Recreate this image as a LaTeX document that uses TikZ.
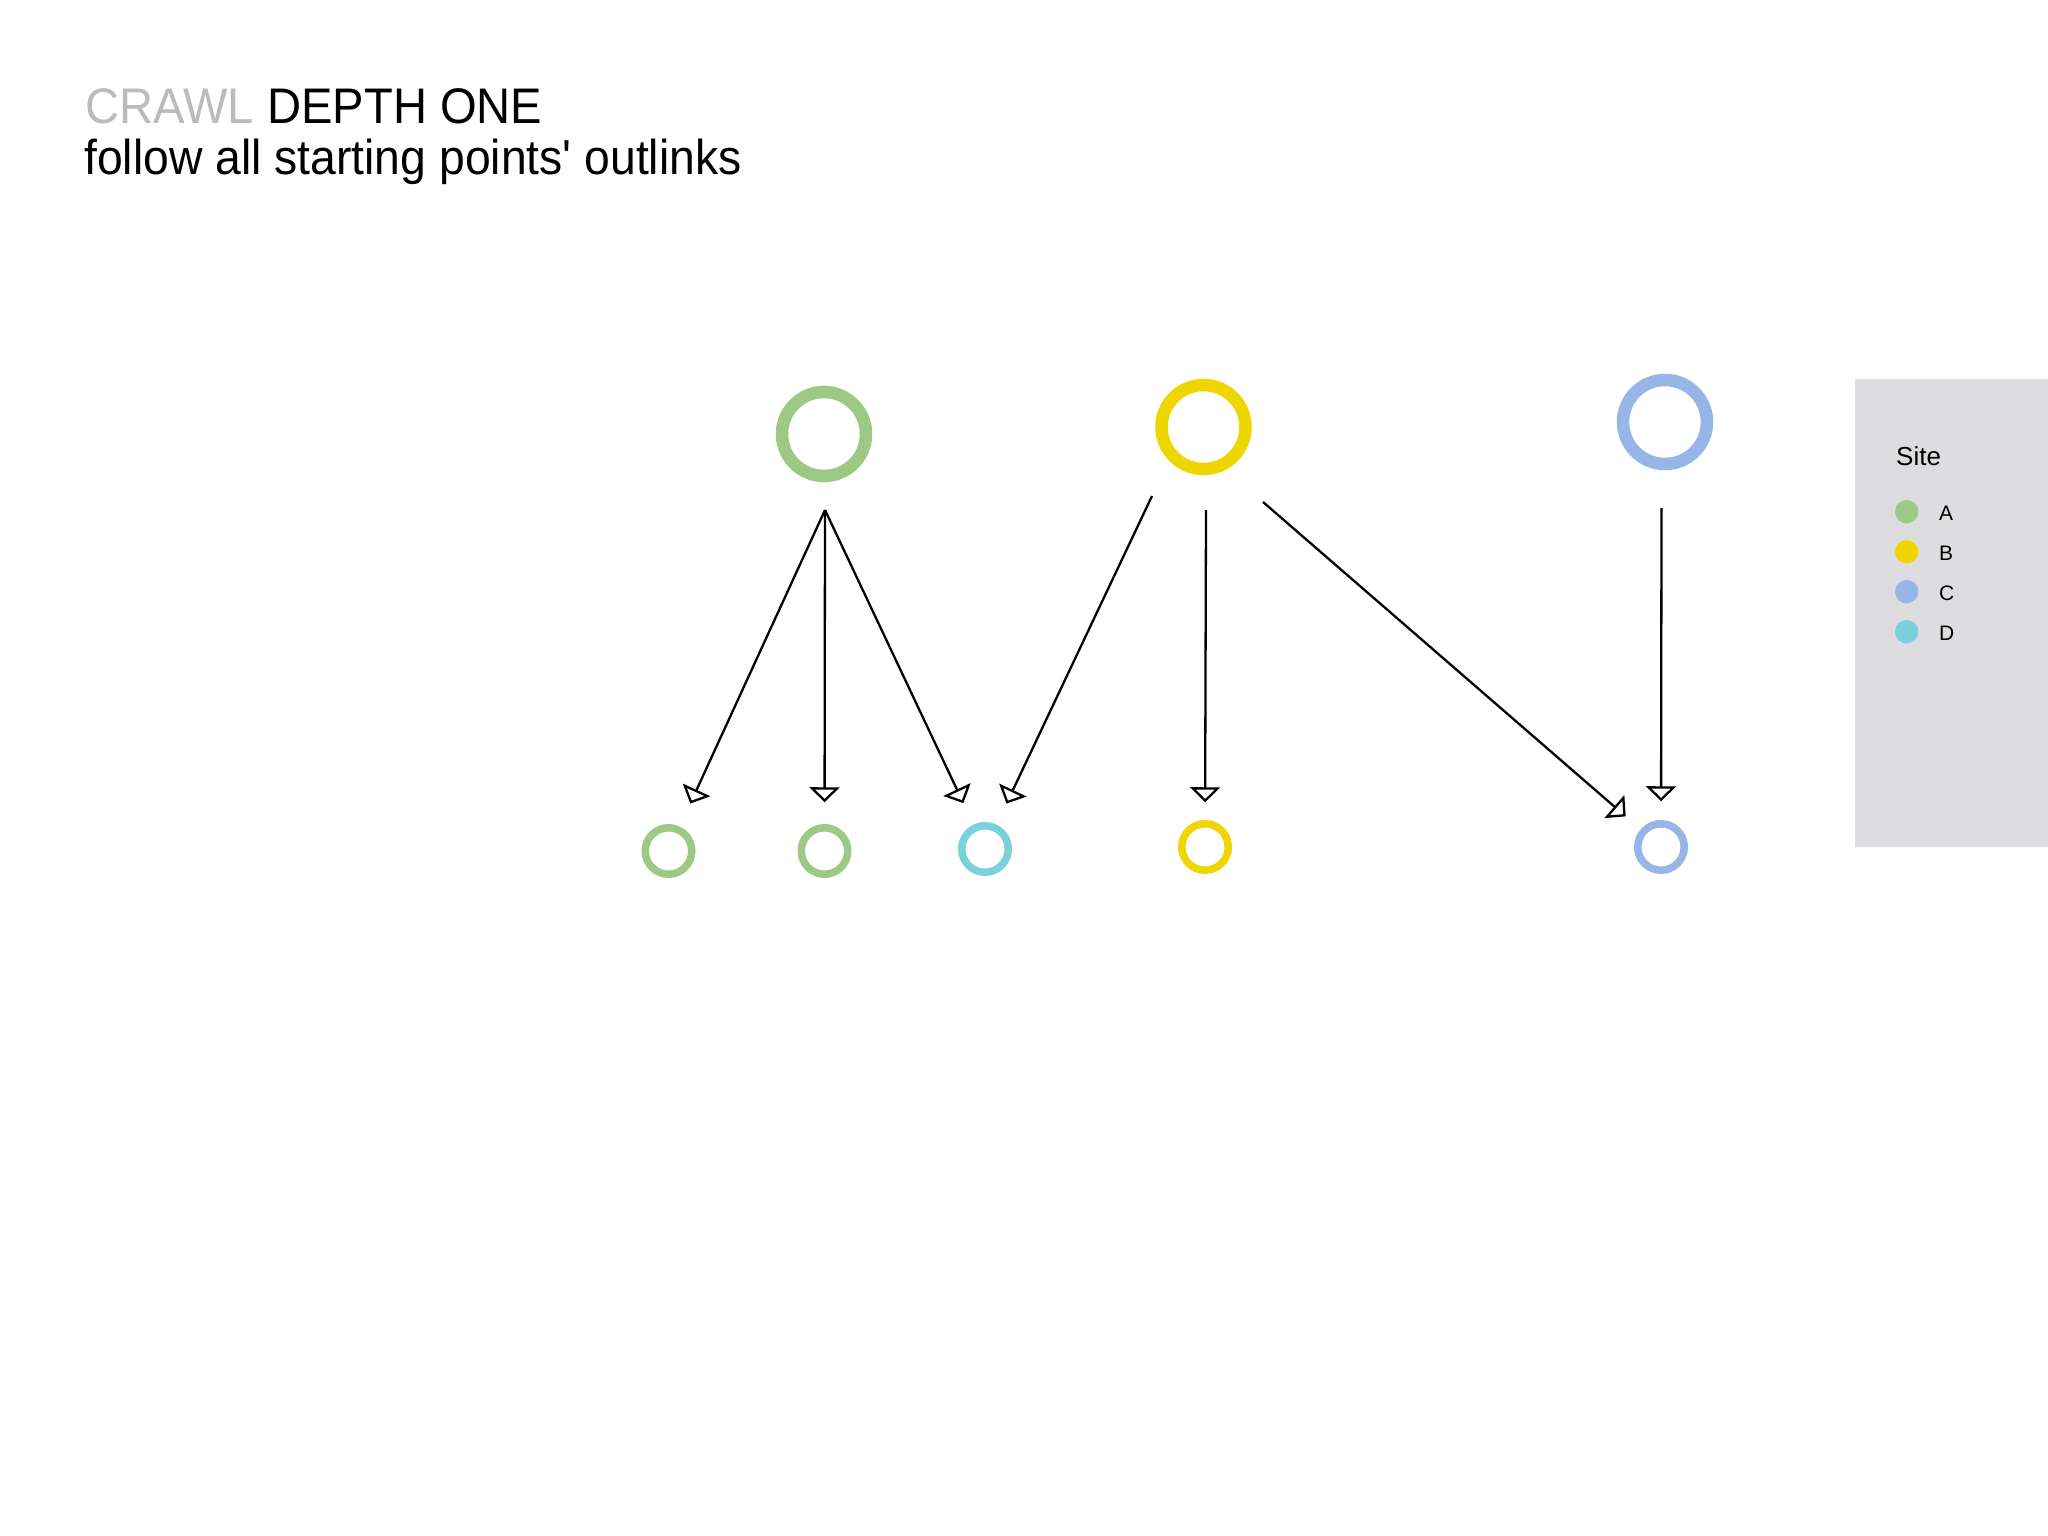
\documentclass[tikz,border=0pt]{standalone}
\usepackage{fontspec}
\setmainfont{Liberation Sans}
\newfontfamily\titlefont[FakeStretch=0.943]{Liberation Sans}
\newfontfamily\subtitlefont[FakeStretch=0.945]{Liberation Sans}
\usetikzlibrary{arrows.meta}
\definecolor{siteA}{RGB}{156,201,131}
\definecolor{siteB}{RGB}{240,214,0}
\definecolor{siteC}{RGB}{151,181,230}
\definecolor{siteD}{RGB}{122,208,219}
\definecolor{legendgray}{RGB}{221,221,223}
\definecolor{titlegray}{RGB}{187,187,187}
\begin{document}
\begin{tikzpicture}[x=1pt,y=-1pt,
  bigring/.style={circle, minimum size=84pt, line width=12.5pt, inner sep=0pt, outer sep=0pt},
  smallring/.style={circle, minimum size=46.5pt, line width=7.5pt, inner sep=0pt, outer sep=0pt},
  link/.style={line width=2.3pt, draw=black, -{Triangle[open, length=15pt, width=30pt]}},
  dot/.style={circle, minimum size=23.4pt, inner sep=0pt, outer sep=0pt},
  legendlabel/.style={anchor=base west, inner sep=0pt, font=\fontsize{21}{25}\selectfont},
  titletext/.style={anchor=base west, inner sep=0pt, font=\titlefont\fontsize{50}{58}\selectfont},
  subtitletext/.style={anchor=base west, inner sep=0pt, font=\subtitlefont\fontsize{49}{58}\selectfont}
]
\useasboundingbox (0,0) rectangle (2048,1536);
\fill[white] (0,0) rectangle (2048,1536);

% title
\node[titletext] (title) at (85.5,124) {\textcolor{titlegray}{CRAWL} DEPTH ONE};
\node[subtitletext] (subtitle) at (84,175) {follow all starting points' outlinks};

% starting points
\node[bigring, draw=siteA] (G) at (824,434) {};
\node[bigring, draw=siteB] (Y) at (1203.5,427) {};
\node[bigring, draw=siteC] (B) at (1665,422) {};

% outlinks
\node[smallring, draw=siteA] (g1) at (668.5,851) {};
\node[smallring, draw=siteA] (g2) at (824.5,851) {};
\node[smallring, draw=siteD] (c1) at (985,849) {};
\node[smallring, draw=siteB] (y1) at (1205,847) {};
\node[smallring, draw=siteC] (b1) at (1661,847) {};

% connector start points
\coordinate (gS) at (825,510);
\coordinate (yS1) at (1152,496);
\coordinate (yS2) at (1206,510);
\coordinate (yS3) at (1263,502);
\coordinate (bS) at (1661.5,508);

\draw[link, shorten >=29pt] (gS) -- (g1);
\draw[link, shorten >=25.5pt] (gS) -- (g2);
\draw[link, shorten >=27.5pt] (gS) -- (c1);
\draw[link, shorten >=27pt] (yS1) -- (c1);
\draw[link, shorten >=21.5pt] (yS2) -- (y1);
\draw[link, shorten >=23.5pt] (yS3) -- (b1);
\draw[link, shorten >=22.5pt] (bS) -- (b1);

% legend
\fill[legendgray] (1855,379) rectangle (2048,847);
\node[anchor=base west, inner sep=0pt, font=\fontsize{26}{31}\selectfont] (site) at (1896,465) {Site};
\node[dot, fill=siteA] (dA) at (1906.7,511.7) {};
\node[dot, fill=siteB] (dB) at (1906.7,551.7) {};
\node[dot, fill=siteC] (dC) at (1906.7,591.7) {};
\node[dot, fill=siteD] (dD) at (1906.7,631.7) {};
\node[legendlabel] (lA) at (1939,520.7) {A};
\node[legendlabel] (lB) at (1939,560.7) {B};
\node[legendlabel] (lC) at (1939,600.7) {C};
\node[legendlabel] (lD) at (1939,640.7) {D};
\end{tikzpicture}
\end{document}
